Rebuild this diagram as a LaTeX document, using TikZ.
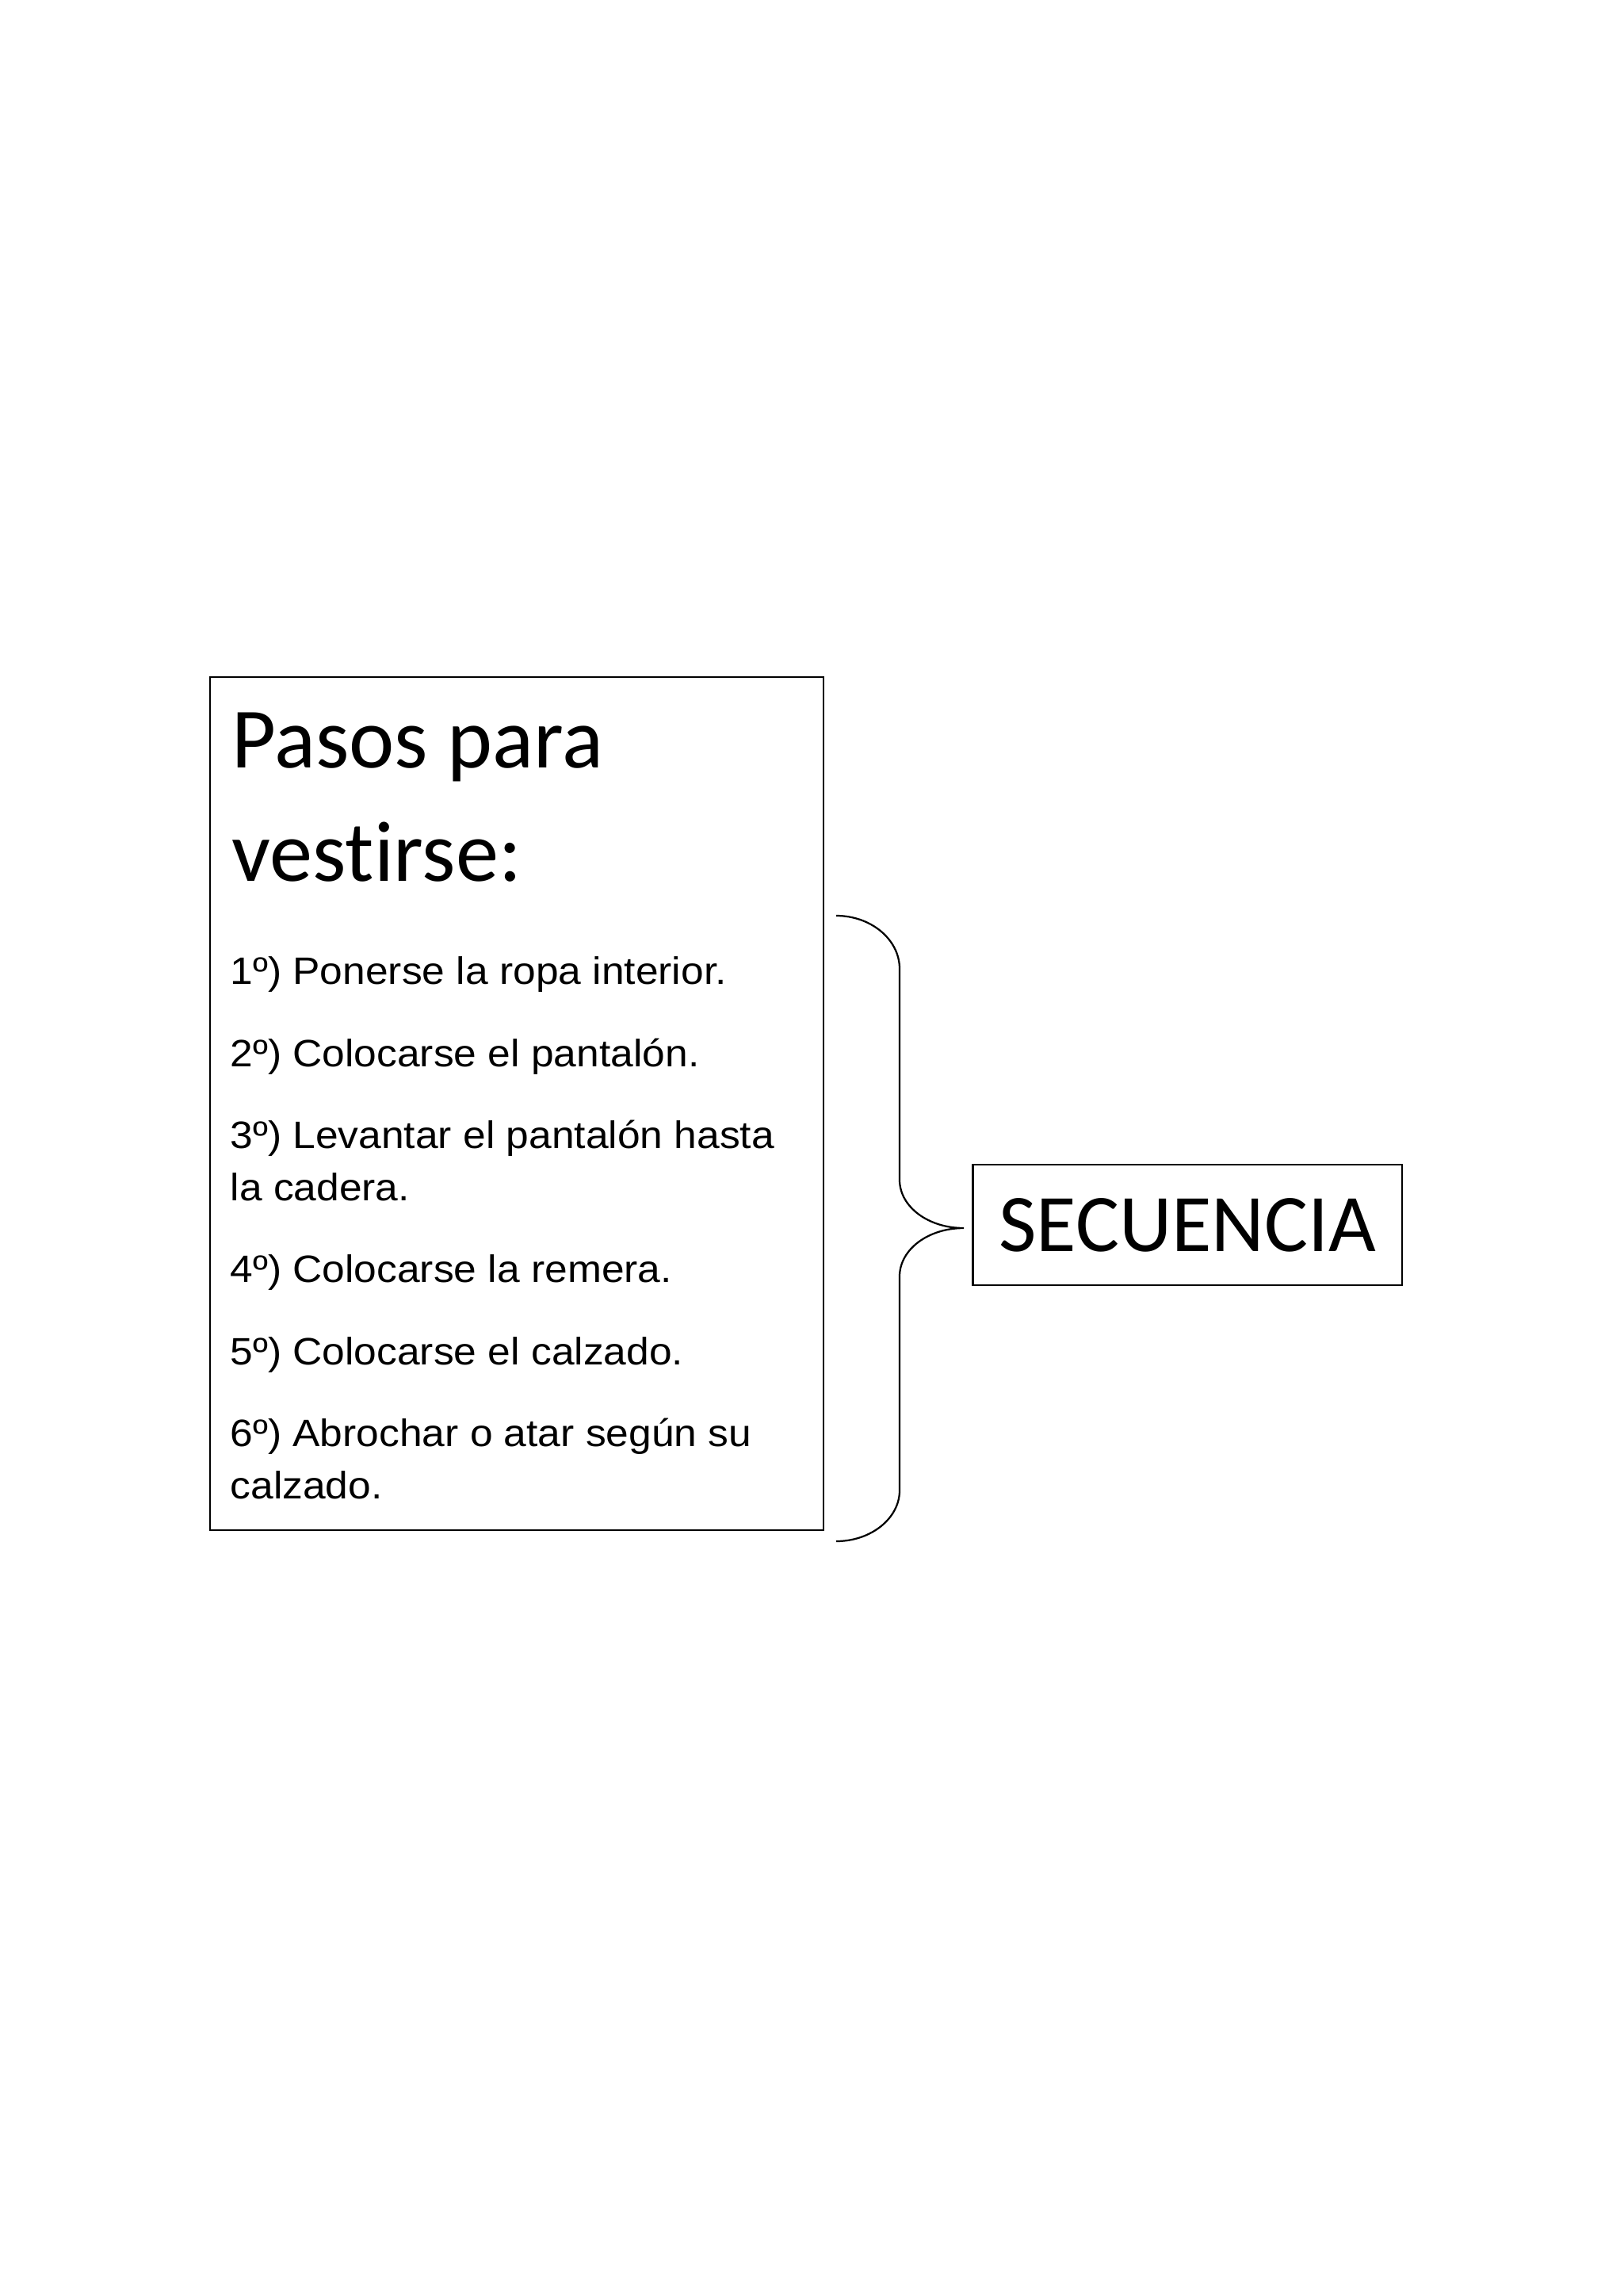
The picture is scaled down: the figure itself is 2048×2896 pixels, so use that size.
\documentclass[tikz,border=0pt]{standalone}
\usepackage{fontspec}
\setmainfont{Liberation Sans}
\newfontfamily\calibrifont[Ligatures=NoCommon]{Carlito}
\newfontfamily\arialfont[FakeStretch=1.07]{Liberation Sans}
\tikzset{
  caja/.style={draw, line width=0.6pt, inner sep=0pt},
  titulo/.style={anchor=base west, inner sep=0pt, font=\calibrifont\fontsize{31.5}{36}\selectfont},
  paso/.style={anchor=base west, inner sep=0pt, font=\arialfont\fontsize{14}{16}\selectfont},
  llave/.style={line width=0.65pt}
}
\begin{document}
\begin{tikzpicture}[x=0.290662pt,y=-0.290662pt]
\useasboundingbox (0,0) rectangle (2048,2896);
\coordinate[] (B1) at (1055,1155);
\coordinate[] (B2) at (1135,1222);
\coordinate[] (B3) at (1135,1488);
\coordinate[] (B4) at (1216,1549);
\coordinate[] (B5) at (1135,1610);
\coordinate[] (B6) at (1135,1880);
\coordinate[] (B7) at (1055,1944);
\node[caja, minimum width=224.97pt, minimum height=312.75pt] (pasos) at (652,1392) {};
\node[caja, minimum width=157.5pt, minimum height=44.18pt, font=\calibrifont\fontsize{30}{36}\selectfont] (sec) at (1498.4,1545) {SECUENCIA};
\node[titulo] (t1) at (292,968.3) {Pasos para};
\node[titulo] (t2) at (292,1111.7) {vestirse:};
\foreach \yy/\txt [count=\i] in {1241.7/{1º) Ponerse la ropa interior.},
  1345.1/{2º) Colocarse el pantalón.},
  1448.5/{3º) Levantar el pantalón hasta},
  1514.5/{la cadera.},
  1617.9/{4º) Colocarse la remera.},
  1721.3/{5º) Colocarse el calzado.},
  1824.7/{6º) Abrochar o atar según su},
  1890.7/{calzado.}}
  \node[paso] (p\i) at (290,\yy) {\txt};
\draw[llave] (B1) .. controls (1099,1155) and (1135,1185) .. (B2) -- (B3)
  .. controls (1135,1522) and (1171,1549) .. (B4)
  .. controls (1171,1549) and (1135,1576) .. (B5) -- (B6)
  .. controls (1135,1915) and (1099,1944) .. (B7);
\end{tikzpicture}
\end{document}
